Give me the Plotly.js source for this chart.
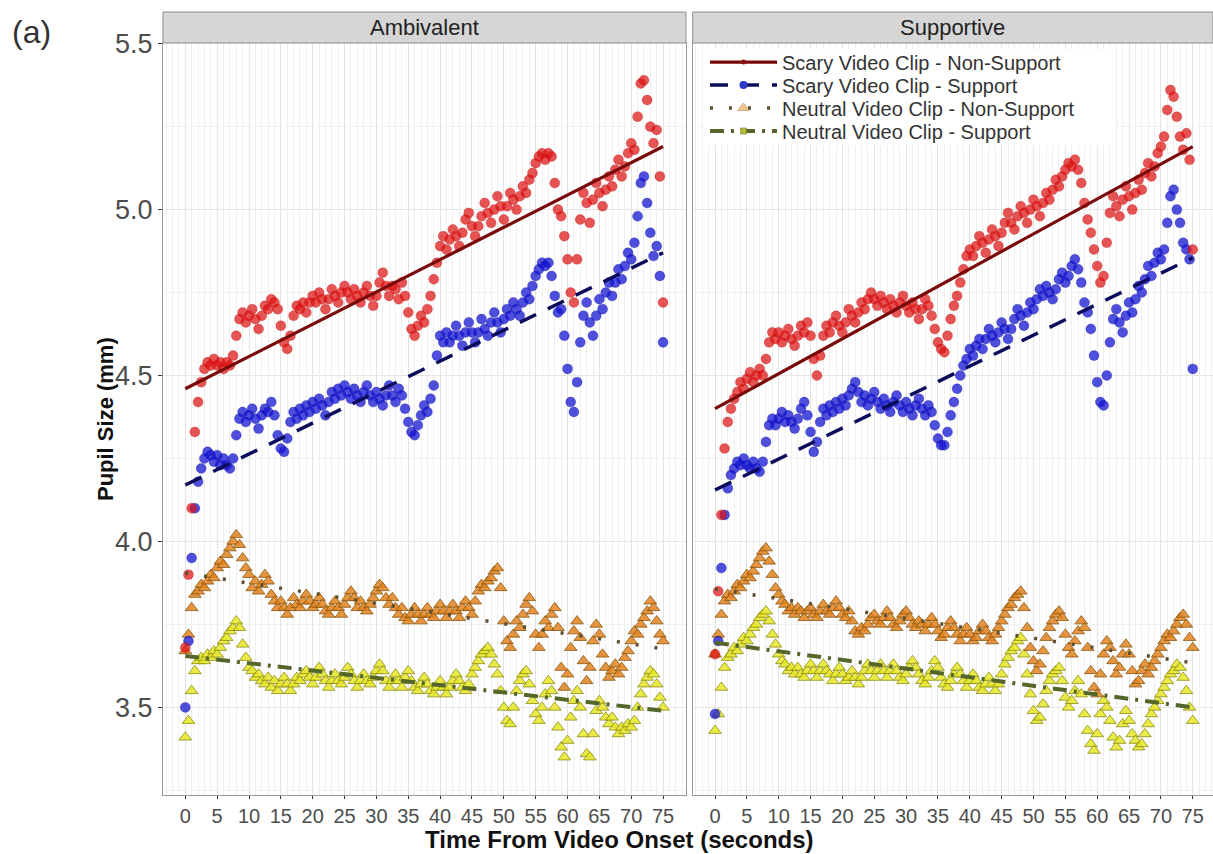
<!DOCTYPE html>
<html><head><meta charset="utf-8">
<script src="https://cdn.plot.ly/plotly-3.0.1.min.js"></script>
<style>html,body{margin:0;padding:0;background:#fff;}#chart{width:1213px;height:854px;}</style>
</head><body><div id="chart"></div>
<script>
// Sampling times (seconds from video onset)
const time = [0,0.5,1,1.5,2,2.5,3,3.5,4,4.5,5,5.5,6,6.5,7,7.5,8,8.5,9,9.5,10,10.5,11,11.5,12,12.5,13,13.5,14,14.5,15,15.5,16,16.5,17,17.5,18,18.5,19,19.5,20,20.5,21,21.5,22,22.5,23,23.5,24,24.5,25,25.5,26,26.5,27,27.5,28,28.5,29,29.5,30,30.5,31,31.5,32,32.5,33,33.5,34,34.5,35,35.5,36,36.5,37,37.5,38,38.5,39,39.5,40,40.5,41,41.5,42,42.5,43,43.5,44,44.5,45,45.5,46,46.5,47,47.5,48,48.5,49,49.5,50,50.5,51,51.5,52,52.5,53,53.5,54,54.5,55,55.5,56,56.5,57,57.5,58,58.5,59,59.5,60,60.5,61,61.5,62,62.5,63,63.5,64,64.5,65,65.5,66,66.5,67,67.5,68,68.5,69,69.5,70,70.5,71,71.5,72,72.5,73,73.5,74,74.5,75];

// Ambivalent panel
const ambScaryNonSupport = [3.68,3.90,4.10,4.33,4.42,4.48,4.52,4.54,4.53,4.55,
4.53,4.54,4.52,4.54,4.53,4.56,4.62,4.67,4.69,4.66,
4.68,4.70,4.67,4.64,4.68,4.71,4.70,4.73,4.72,4.70,
4.65,4.60,4.58,4.62,4.68,4.71,4.70,4.72,4.69,4.72,
4.74,4.72,4.75,4.73,4.70,4.73,4.76,4.74,4.72,4.75,
4.77,4.75,4.73,4.76,4.74,4.72,4.75,4.77,4.74,4.71,
4.74,4.78,4.81,4.77,4.74,4.77,4.76,4.73,4.78,4.74,
4.69,4.64,4.62,4.65,4.68,4.66,4.70,4.74,4.79,4.84,
4.89,4.92,4.88,4.91,4.94,4.92,4.89,4.93,4.97,4.99,
4.95,4.92,4.95,4.98,5.02,4.99,4.96,5.00,5.04,5.01,
4.97,5.01,5.05,5.03,5.00,5.04,5.07,5.05,5.09,5.11,
5.14,5.16,5.17,5.15,5.17,5.16,5.08,5.00,4.98,4.92,
4.85,4.75,4.72,4.85,4.97,5.05,5.02,4.96,5.03,5.08,
5.05,5.01,5.06,5.10,5.07,5.12,5.15,5.10,5.13,5.17,
5.20,5.18,5.28,5.38,5.39,5.33,5.25,5.20,5.24,5.10,
4.72];
const ambScarySupport = [3.50,3.70,3.95,4.10,4.18,4.22,4.25,4.27,4.26,4.24,
4.26,4.23,4.25,4.23,4.22,4.25,4.32,4.37,4.39,4.36,
4.38,4.40,4.37,4.34,4.38,4.40,4.39,4.42,4.38,4.32,
4.28,4.27,4.31,4.36,4.39,4.37,4.40,4.38,4.41,4.39,
4.42,4.40,4.43,4.41,4.38,4.42,4.45,4.43,4.46,4.44,
4.47,4.45,4.43,4.46,4.44,4.42,4.45,4.47,4.44,4.42,
4.45,4.43,4.41,4.44,4.47,4.44,4.42,4.46,4.44,4.40,
4.36,4.33,4.32,4.35,4.38,4.41,4.39,4.43,4.47,4.56,
4.62,4.60,4.63,4.60,4.62,4.65,4.62,4.59,4.63,4.66,
4.63,4.60,4.63,4.67,4.64,4.62,4.66,4.69,4.66,4.63,
4.67,4.70,4.68,4.72,4.70,4.68,4.72,4.75,4.73,4.77,
4.80,4.82,4.84,4.83,4.84,4.80,4.74,4.69,4.70,4.62,
4.52,4.42,4.39,4.48,4.60,4.68,4.72,4.66,4.62,4.68,
4.73,4.70,4.75,4.78,4.74,4.78,4.82,4.79,4.83,4.87,
4.85,4.90,4.98,5.08,5.10,5.02,4.93,4.86,4.89,4.80,
4.60];
const ambNeutralNonSupport = [3.67,3.72,3.80,3.84,3.85,3.87,3.86,3.88,3.90,3.89,
3.92,3.94,3.93,3.96,3.98,4.00,4.02,3.99,3.95,3.92,
3.90,3.86,3.88,3.85,3.87,3.90,3.88,3.84,3.82,3.80,
3.82,3.80,3.78,3.80,3.83,3.81,3.80,3.82,3.84,3.82,
3.80,3.81,3.83,3.81,3.79,3.78,3.80,3.82,3.80,3.78,
3.81,3.83,3.85,3.83,3.80,3.82,3.80,3.79,3.81,3.83,
3.85,3.87,3.86,3.83,3.81,3.83,3.80,3.78,3.80,3.77,
3.76,3.78,3.80,3.78,3.76,3.78,3.80,3.78,3.77,3.79,
3.81,3.79,3.77,3.79,3.81,3.79,3.77,3.80,3.82,3.80,
3.78,3.82,3.85,3.87,3.86,3.88,3.89,3.91,3.92,3.86,
3.76,3.70,3.68,3.72,3.76,3.74,3.78,3.81,3.83,3.79,
3.72,3.68,3.72,3.76,3.74,3.78,3.80,3.74,3.62,3.56,
3.60,3.68,3.73,3.76,3.71,3.64,3.58,3.62,3.70,3.75,
3.72,3.66,3.62,3.59,3.61,3.63,3.60,3.62,3.65,3.67,
3.70,3.73,3.72,3.75,3.77,3.79,3.82,3.80,3.76,3.72,
3.70];
const ambNeutralSupport = [3.41,3.46,3.55,3.61,3.64,3.65,3.64,3.66,3.65,3.67,
3.66,3.68,3.70,3.71,3.73,3.74,3.76,3.74,3.69,3.65,
3.62,3.61,3.59,3.60,3.58,3.57,3.59,3.56,3.58,3.55,
3.57,3.59,3.57,3.55,3.57,3.59,3.58,3.60,3.61,3.59,
3.57,3.59,3.62,3.60,3.58,3.56,3.58,3.60,3.58,3.57,
3.59,3.62,3.60,3.58,3.56,3.58,3.60,3.58,3.57,3.59,
3.61,3.63,3.61,3.58,3.56,3.58,3.60,3.58,3.56,3.59,
3.61,3.58,3.56,3.55,3.57,3.59,3.57,3.55,3.54,3.56,
3.58,3.56,3.54,3.56,3.58,3.60,3.58,3.56,3.55,3.57,
3.60,3.62,3.64,3.66,3.67,3.68,3.66,3.63,3.60,3.55,
3.50,3.46,3.45,3.50,3.55,3.58,3.60,3.61,3.57,3.52,
3.48,3.46,3.50,3.54,3.58,3.55,3.50,3.44,3.38,3.35,
3.40,3.47,3.52,3.55,3.50,3.42,3.36,3.35,3.42,3.49,
3.52,3.50,3.47,3.45,3.47,3.44,3.42,3.44,3.43,3.45,
3.44,3.46,3.50,3.54,3.57,3.59,3.61,3.60,3.57,3.53,
3.50];

// Supportive panel
const supScaryNonSupport = [3.66,3.85,4.08,4.28,4.36,4.40,4.43,4.45,4.48,4.46,
4.49,4.51,4.48,4.50,4.52,4.50,4.55,4.60,4.63,4.61,
4.63,4.60,4.62,4.64,4.61,4.59,4.62,4.65,4.63,4.66,
4.62,4.55,4.50,4.56,4.62,4.65,4.63,4.66,4.68,4.65,
4.63,4.66,4.70,4.68,4.66,4.69,4.72,4.70,4.73,4.75,
4.73,4.71,4.74,4.72,4.70,4.73,4.71,4.69,4.72,4.74,
4.71,4.69,4.72,4.70,4.67,4.70,4.73,4.71,4.68,4.64,
4.60,4.58,4.57,4.62,4.67,4.71,4.74,4.78,4.82,4.86,
4.88,4.86,4.89,4.92,4.90,4.87,4.91,4.94,4.92,4.89,
4.93,4.96,4.99,4.96,4.94,4.98,5.01,4.99,4.96,5.00,
5.03,5.01,4.98,5.02,5.05,5.03,5.06,5.09,5.07,5.10,
5.12,5.14,5.13,5.15,5.12,5.08,5.02,4.97,4.93,4.88,
4.83,4.78,4.80,4.90,4.99,5.04,5.01,4.98,5.03,5.07,
5.04,5.00,5.05,5.09,5.06,5.11,5.14,5.10,5.13,5.17,
5.19,5.22,5.30,5.36,5.34,5.28,5.22,5.18,5.23,5.15,
4.88];
const supScarySupport = [3.48,3.70,3.92,4.08,4.16,4.20,4.22,4.24,4.23,4.25,
4.23,4.22,4.24,4.22,4.21,4.24,4.30,4.35,4.37,4.35,
4.37,4.39,4.36,4.38,4.36,4.34,4.37,4.40,4.42,4.38,
4.33,4.27,4.30,4.36,4.40,4.38,4.41,4.39,4.42,4.40,
4.43,4.41,4.44,4.46,4.48,4.45,4.42,4.44,4.41,4.43,
4.45,4.42,4.40,4.43,4.41,4.39,4.42,4.44,4.41,4.39,
4.42,4.40,4.38,4.41,4.43,4.40,4.38,4.41,4.39,4.35,
4.31,4.29,4.29,4.33,4.38,4.42,4.46,4.50,4.53,4.55,
4.58,4.56,4.59,4.61,4.58,4.61,4.64,4.62,4.60,4.63,
4.66,4.64,4.61,4.64,4.67,4.70,4.68,4.65,4.69,4.72,
4.70,4.73,4.76,4.74,4.77,4.75,4.73,4.76,4.79,4.81,
4.78,4.80,4.83,4.85,4.82,4.78,4.72,4.69,4.64,4.56,
4.48,4.42,4.41,4.50,4.60,4.67,4.70,4.66,4.63,4.68,
4.72,4.69,4.73,4.77,4.75,4.79,4.83,4.80,4.84,4.87,
4.85,4.88,4.96,5.04,5.06,5.00,4.96,4.90,4.88,4.85,
4.52];
const supNeutralNonSupport = [3.66,3.72,3.78,3.82,3.84,3.83,3.85,3.87,3.86,3.88,
3.90,3.89,3.91,3.93,3.95,3.97,3.98,3.94,3.90,3.86,
3.84,3.82,3.81,3.79,3.80,3.78,3.80,3.79,3.77,3.79,
3.80,3.78,3.77,3.79,3.81,3.79,3.78,3.80,3.82,3.80,
3.78,3.77,3.79,3.76,3.73,3.72,3.74,3.73,3.75,3.77,
3.78,3.76,3.75,3.77,3.79,3.77,3.75,3.74,3.76,3.78,
3.79,3.77,3.75,3.74,3.76,3.75,3.73,3.75,3.77,3.75,
3.73,3.71,3.72,3.74,3.76,3.74,3.72,3.70,3.72,3.74,
3.72,3.70,3.71,3.73,3.75,3.73,3.71,3.70,3.72,3.74,
3.76,3.78,3.80,3.81,3.83,3.84,3.85,3.80,3.74,3.68,
3.64,3.61,3.63,3.67,3.71,3.74,3.76,3.78,3.79,3.77,
3.72,3.68,3.66,3.70,3.73,3.76,3.74,3.68,3.61,3.56,
3.54,3.60,3.66,3.70,3.68,3.64,3.60,3.62,3.66,3.69,
3.66,3.61,3.57,3.58,3.61,3.63,3.60,3.62,3.64,3.66,
3.68,3.70,3.72,3.71,3.73,3.75,3.77,3.78,3.75,3.71,
3.68];
const supNeutralSupport = [3.43,3.48,3.56,3.62,3.65,3.66,3.68,3.67,3.69,3.71,
3.70,3.72,3.74,3.75,3.77,3.78,3.79,3.76,3.72,3.69,
3.66,3.64,3.63,3.61,3.62,3.60,3.62,3.60,3.59,3.61,
3.63,3.61,3.59,3.61,3.63,3.61,3.60,3.58,3.60,3.62,
3.60,3.58,3.59,3.61,3.59,3.57,3.59,3.61,3.63,3.61,
3.59,3.61,3.63,3.61,3.59,3.61,3.63,3.61,3.59,3.58,
3.60,3.62,3.64,3.62,3.60,3.58,3.57,3.59,3.61,3.64,
3.62,3.59,3.57,3.56,3.58,3.60,3.62,3.60,3.58,3.56,
3.58,3.60,3.58,3.56,3.55,3.57,3.59,3.57,3.55,3.57,
3.60,3.63,3.65,3.67,3.68,3.70,3.71,3.66,3.60,3.54,
3.49,3.46,3.47,3.51,3.55,3.58,3.60,3.61,3.62,3.58,
3.53,3.50,3.52,3.55,3.58,3.54,3.48,3.43,3.39,3.37,
3.42,3.48,3.52,3.50,3.46,3.41,3.38,3.40,3.45,3.49,
3.46,3.42,3.40,3.38,3.39,3.42,3.45,3.48,3.50,3.52,
3.54,3.56,3.58,3.60,3.61,3.63,3.62,3.59,3.55,3.50,
3.46];

// Linear fit lines (endpoints at t = 0 and t = 75)
const fitTime = [0, 75];
const ambFitScaryNonSupport = [4.46, 5.19];
const ambFitScarySupport = [4.17, 4.87];
const ambFitNeutralNonSupport = [3.905, 3.676];
const ambFitNeutralSupport = [3.655, 3.49];
const supFitScaryNonSupport = [4.40, 5.19];
const supFitScarySupport = [4.155, 4.855];
const supFitNeutralNonSupport = [3.857, 3.634];
const supFitNeutralSupport = [3.695, 3.50];

const panels = ['Ambivalent', 'Supportive'];
const seriesNames = ['Scary Video Clip - Non-Support','Scary Video Clip - Support','Neutral Video Clip - Non-Support','Neutral Video Clip - Support'];

const ptStyle = [
  {symbol:'circle', size:10, color:'rgba(222,18,18,0.72)', line:{color:'rgba(170,0,0,0.5)', width:0.5}},
  {symbol:'circle', size:10, color:'rgba(20,20,210,0.75)', line:{color:'rgba(0,0,140,0.5)', width:0.5}},
  {symbol:'triangle-up', size:11, color:'rgba(226,132,30,0.85)', line:{color:'#8a5510', width:0.8}},
  {symbol:'triangle-up', size:11, color:'rgba(232,232,40,0.85)', line:{color:'#8c8c10', width:0.8}}
];
const lnStyle = [
  {color:'#7a0a0a', width:3.2, dash:'solid'},
  {color:'#0c0c5c', width:3.5, dash:'18px,13px'},
  {color:'#5e4e30', width:3.5, dash:'3px,16px'},
  {color:'#55662a', width:4, dash:'14px,7px,3px,7px'}
];
const legMarker = [
  {symbol:'circle', size:5, color:'#8a1010'},
  {symbol:'circle', size:8, color:'#2a3ad0'},
  {symbol:'triangle-up', size:10, color:'#f2c890', line:{color:'#b08850', width:0.6}},
  {symbol:'square', size:6, color:'#b8b840', line:{color:'#7a7a20', width:0.6}}
];

const ptsData = [
  [ambScaryNonSupport, ambScarySupport, ambNeutralNonSupport, ambNeutralSupport],
  [supScaryNonSupport, supScarySupport, supNeutralNonSupport, supNeutralSupport]
];
const fitData = [
  [ambFitScaryNonSupport, ambFitScarySupport, ambFitNeutralNonSupport, ambFitNeutralSupport],
  [supFitScaryNonSupport, supFitScarySupport, supFitNeutralNonSupport, supFitNeutralSupport]
];

const traces = [];
const drawOrder = [3, 2, 1, 0];
for (let p = 0; p < 2; p++) {
  const xa = p === 0 ? 'x' : 'x2', ya = p === 0 ? 'y' : 'y2';
  drawOrder.forEach(s => {
    traces.push({x: time, y: ptsData[p][s], xaxis: xa, yaxis: ya, type: 'scatter', mode: 'markers',
      marker: ptStyle[s], showlegend: false, hoverinfo: 'skip'});
  });
  drawOrder.forEach(s => {
    traces.push({x: fitTime, y: fitData[p][s], xaxis: xa, yaxis: ya, type: 'scatter', mode: 'lines',
      line: lnStyle[s], showlegend: false, hoverinfo: 'skip'});
  });
}
// legend entries, one legend per row so the row spacing can match the reference
const legendIds = ['legend', 'legend2', 'legend3', 'legend4'];
for (let s = 0; s < 4; s++) {
  traces.push({x: [null], y: [null], xaxis: 'x2', yaxis: 'y2', type: 'scatter', mode: 'lines+markers',
    name: seriesNames[s], line: lnStyle[s], marker: legMarker[s], showlegend: true, legend: legendIds[s]});
}

const FONT = 'Liberation Sans, Arial, sans-serif';
const xCommon = {
  tick0: 0, dtick: 5, ticks: 'outside', ticklen: 3, tickcolor: '#333', tickwidth: 1,
  tickfont: {family: FONT, size: 20, color: '#4d4d4d'},
  showgrid: true, gridcolor: '#e2e2e2', gridwidth: 1,
  minor: {dtick: 1, showgrid: true, gridcolor: '#efefef', gridwidth: 1, ticks: ''},
  showline: true, mirror: true, linecolor: '#9a9a9a', linewidth: 1, zeroline: false, fixedrange: true
};
const yCommon = {
  range: [3.236, 5.502], tick0: 3.5, dtick: 0.5, tickformat: '.1f',
  showgrid: true, gridcolor: '#e6e6e6', gridwidth: 1,
  minor: {dtick: 0.25, showgrid: true, gridcolor: '#f2f2f2', gridwidth: 1, ticks: ''},
  showline: true, mirror: true, linecolor: '#9a9a9a', linewidth: 1, zeroline: false, fixedrange: true
};

const legBase = {x: 0.5162, xanchor: 'left', yanchor: 'middle', bgcolor: 'rgba(0,0,0,0)', borderwidth: 0,
  font: {family: FONT, size: 20, color: '#333'}, itemwidth: 67, tracegroupgap: 0};
const legendRowsY = [0.9747, 0.9441, 0.9136, 0.8830];

const layout = {
  width: 1213, height: 854,
  margin: {l: 163, r: 0, t: 43, b: 59},
  paper_bgcolor: '#fff', plot_bgcolor: '#fff',
  font: {family: FONT, color: '#333'},
  xaxis: Object.assign({}, xCommon, {domain: [0, 0.4981], range: [-3.5, 78.6], anchor: 'y'}),
  xaxis2: Object.assign({}, xCommon, {domain: [0.5045, 1], range: [-3.5, 78.18], anchor: 'y2'}),
  yaxis: Object.assign({}, yCommon, {anchor: 'x', ticks: 'outside', ticklen: 4, tickcolor: '#333',
    tickfont: {family: FONT, size: 27, color: '#4d4d4d'}}),
  yaxis2: Object.assign({}, yCommon, {anchor: 'x2', showticklabels: false, ticks: ''}),
  showlegend: true,
  legend: Object.assign({}, legBase, {y: legendRowsY[0]}),
  legend2: Object.assign({}, legBase, {y: legendRowsY[1]}),
  legend3: Object.assign({}, legBase, {y: legendRowsY[2]}),
  legend4: Object.assign({}, legBase, {y: legendRowsY[3]}),
  shapes: [
    {type: 'rect', xref: 'x domain', yref: 'y domain', x0: 0, x1: 1, y0: 1, y1: 1.0412,
      fillcolor: '#d6d6d6', line: {color: '#8c8c8c', width: 1}},
    {type: 'rect', xref: 'x2 domain', yref: 'y2 domain', x0: 0, x1: 1, y0: 1, y1: 1.0412,
      fillcolor: '#d6d6d6', line: {color: '#8c8c8c', width: 1}},
    // white backing behind the legend (hides gridlines, as in the reference)
    {type: 'rect', xref: 'paper', yref: 'paper', x0: 0.5143, x1: 0.9075, y0: 0.864, y1: 0.992,
      fillcolor: '#ffffff', line: {width: 0}, layer: 'above'}
  ],
  annotations: [
    {xref: 'x domain', yref: 'y domain', x: 0.5, y: 1.0206, text: panels[0], showarrow: false,
      xanchor: 'center', yanchor: 'middle', font: {family: FONT, size: 22, color: '#222'}},
    {xref: 'x2 domain', yref: 'y2 domain', x: 0.5, y: 1.0206, text: panels[1], showarrow: false,
      xanchor: 'center', yanchor: 'middle', font: {family: FONT, size: 22, color: '#222'}},
    {xref: 'paper', yref: 'paper', x: 0.4352, y: -0.0595, text: '<b>Time From Video Onset (seconds)</b>',
      showarrow: false, xanchor: 'center', yanchor: 'middle', font: {family: FONT, size: 24, color: '#111'}},
    {xref: 'paper', yref: 'paper', x: -0.0552, y: 0.5, text: '<b>Pupil Size (mm)</b>', textangle: -90,
      showarrow: false, xanchor: 'center', yanchor: 'middle', font: {family: FONT, size: 22, color: '#111'}},
    {xref: 'paper', yref: 'paper', x: -0.1457, y: 1.0146, text: '(a)', showarrow: false,
      xanchor: 'left', yanchor: 'middle', font: {family: FONT, size: 32, color: '#333'}}
  ]
};

Plotly.newPlot('chart', traces, layout, {displayModeBar: false, staticPlot: true});
</script>
</body></html>
